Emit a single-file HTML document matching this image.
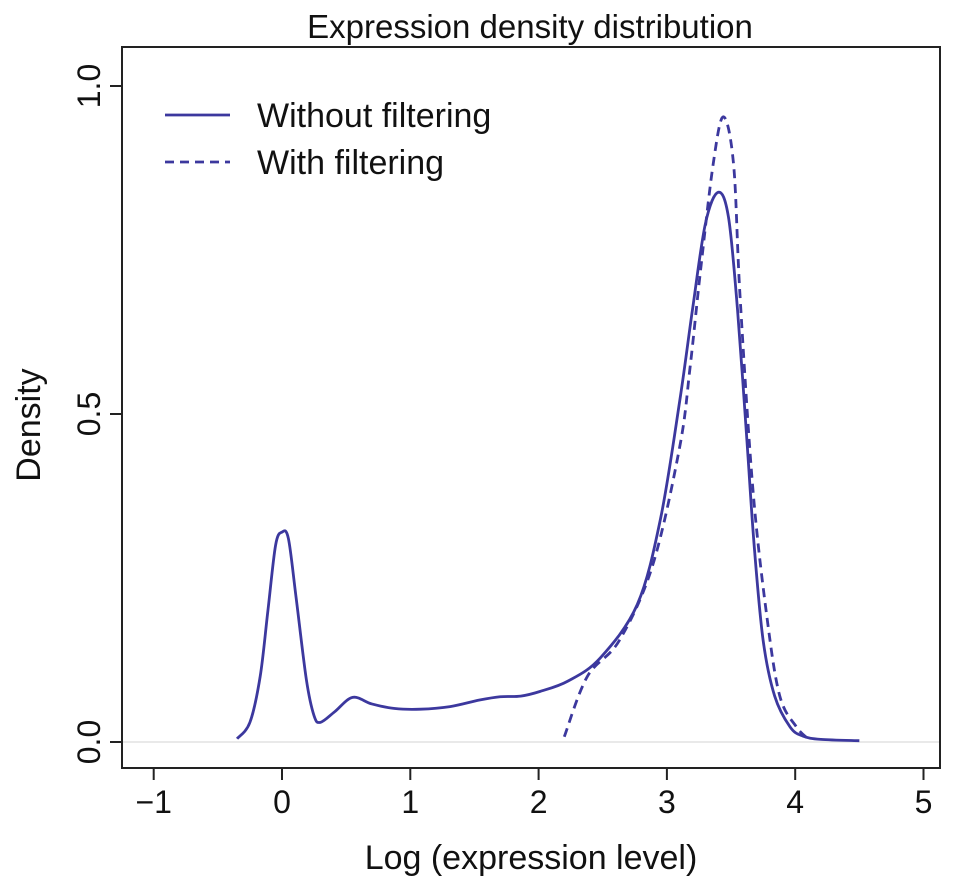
<!DOCTYPE html>
<html><head><meta charset="utf-8"><style>
body{margin:0;background:#fff;}
svg{display:block;font-family:"Liberation Sans",sans-serif;}
</style></head><body>
<svg id="chart" width="969" height="890">
<text x="530" y="38" font-size="33" text-anchor="middle" fill="#111">Expression density distribution</text>
<rect x="122" y="47" width="818" height="721" fill="none" stroke="#222" stroke-width="2"/>
<line x1="123" x2="939" y1="742" y2="742" stroke="#e2e2e2" stroke-width="1.5"/>
<g id="axes"></g>
<g id="series"></g>
<text x="531" y="869" font-size="34" text-anchor="middle" fill="#111">Log (expression level)</text>
<text transform="translate(40,425) rotate(-90)" font-size="34" text-anchor="middle" fill="#111">Density</text>
<g>
<line x1="165" x2="230" y1="115" y2="115" stroke="#3c389e" stroke-width="2.8"/>
<text x="257" y="127" font-size="34" fill="#111">Without filtering</text>
<line x1="165" x2="230" y1="162" y2="162" stroke="#3c389e" stroke-width="2.8" stroke-dasharray="9,6"/>
<text x="257" y="174" font-size="34" fill="#111">With filtering</text>
</g>
</svg>
<script>
const xTicks=[-1,0,1,2,3,4,5];
const xTickLabels=["\u22121","0","1","2","3","4","5"];
const yTicks=[0,0.5,1.0];
const yTickLabels=["0.0","0.5","1.0"];
const withoutX=[-0.35,-0.25,-0.17,-0.11,-0.05,0.0,0.05,0.11,0.19,0.25,0.30,0.41,0.55,0.70,0.88,1.08,1.31,1.54,1.70,1.86,2.01,2.23,2.48,2.77,2.95,3.10,3.20,3.30,3.40,3.48,3.55,3.62,3.68,3.75,3.84,3.96,4.06,4.2,4.5];
const withoutY=[0.005,0.03,0.10,0.20,0.30,0.32,0.31,0.22,0.095,0.04,0.03,0.046,0.068,0.058,0.051,0.050,0.054,0.064,0.069,0.070,0.077,0.093,0.128,0.21,0.34,0.52,0.66,0.79,0.838,0.80,0.66,0.47,0.30,0.155,0.07,0.023,0.009,0.004,0.002];
const withX=[2.20,2.38,2.63,2.89,3.10,3.18,3.26,3.36,3.44,3.52,3.57,3.67,3.78,3.88,4.01,4.1];
const withY=[0.008,0.10,0.155,0.27,0.45,0.57,0.715,0.88,0.953,0.88,0.68,0.386,0.19,0.07,0.023,0.005];
const NS="http://www.w3.org/2000/svg";
function sx(v){return 282+(v-0)*128.3;}
function sy(v){return 742-v*656;}
const axes=document.getElementById('axes');
xTicks.forEach((t,i)=>{
 const l=document.createElementNS(NS,'line');
 l.setAttribute('x1',sx(t));l.setAttribute('x2',sx(t));l.setAttribute('y1',768);l.setAttribute('y2',780);
 l.setAttribute('stroke','#222');l.setAttribute('stroke-width','2');
 
 
 axes.appendChild(l);
 const tx=document.createElementNS(NS,'text');
 tx.setAttribute('x',sx(t));tx.setAttribute('y',813);tx.setAttribute('font-size','32');tx.setAttribute('text-anchor','middle');tx.setAttribute('fill','#111');
 tx.textContent=xTickLabels[i];
 
 
 axes.appendChild(tx);
});
yTicks.forEach((t,i)=>{
 const l=document.createElementNS(NS,'line');
 l.setAttribute('x1',110);l.setAttribute('x2',122);l.setAttribute('y1',sy(t));l.setAttribute('y2',sy(t));
 l.setAttribute('stroke','#222');l.setAttribute('stroke-width','2');
 
 
 axes.appendChild(l);
 const tx=document.createElementNS(NS,'text');
 tx.setAttribute('transform','translate(100,'+sy(t)+') rotate(-90)');tx.setAttribute('font-size','32');tx.setAttribute('text-anchor','middle');tx.setAttribute('fill','#111');
 tx.textContent=yTickLabels[i];
 
 
 axes.appendChild(tx);
});
function smoothPath(xs,ys){
 const p=xs.map((x,i)=>[sx(x),sy(ys[i])]);
 let d='M'+p[0][0]+','+p[0][1];
 for(let i=0;i<p.length-1;i++){
  const p0=p[i-1]||p[i],p1=p[i],p2=p[i+1],p3=p[i+2]||p2;
  const c1=[p1[0]+(p2[0]-p0[0])/6,p1[1]+(p2[1]-p0[1])/6];
  const c2=[p2[0]-(p3[0]-p1[0])/6,p2[1]-(p3[1]-p1[1])/6];
  d+=' C'+c1[0]+','+c1[1]+' '+c2[0]+','+c2[1]+' '+p2[0]+','+p2[1];
 }
 return d;
}
const g=document.getElementById('series');
const s1=document.createElementNS(NS,'path');
s1.setAttribute('d',smoothPath(withoutX,withoutY));
s1.setAttribute('fill','none');s1.setAttribute('stroke','#3c389e');s1.setAttribute('stroke-width','2.8');


g.appendChild(s1);
const s2=document.createElementNS(NS,'path');
s2.setAttribute('d',smoothPath(withX,withY));
s2.setAttribute('fill','none');s2.setAttribute('stroke','#3c389e');s2.setAttribute('stroke-width','2.8');s2.setAttribute('stroke-dasharray','9,6');


g.appendChild(s2);
</script>
</body></html>
